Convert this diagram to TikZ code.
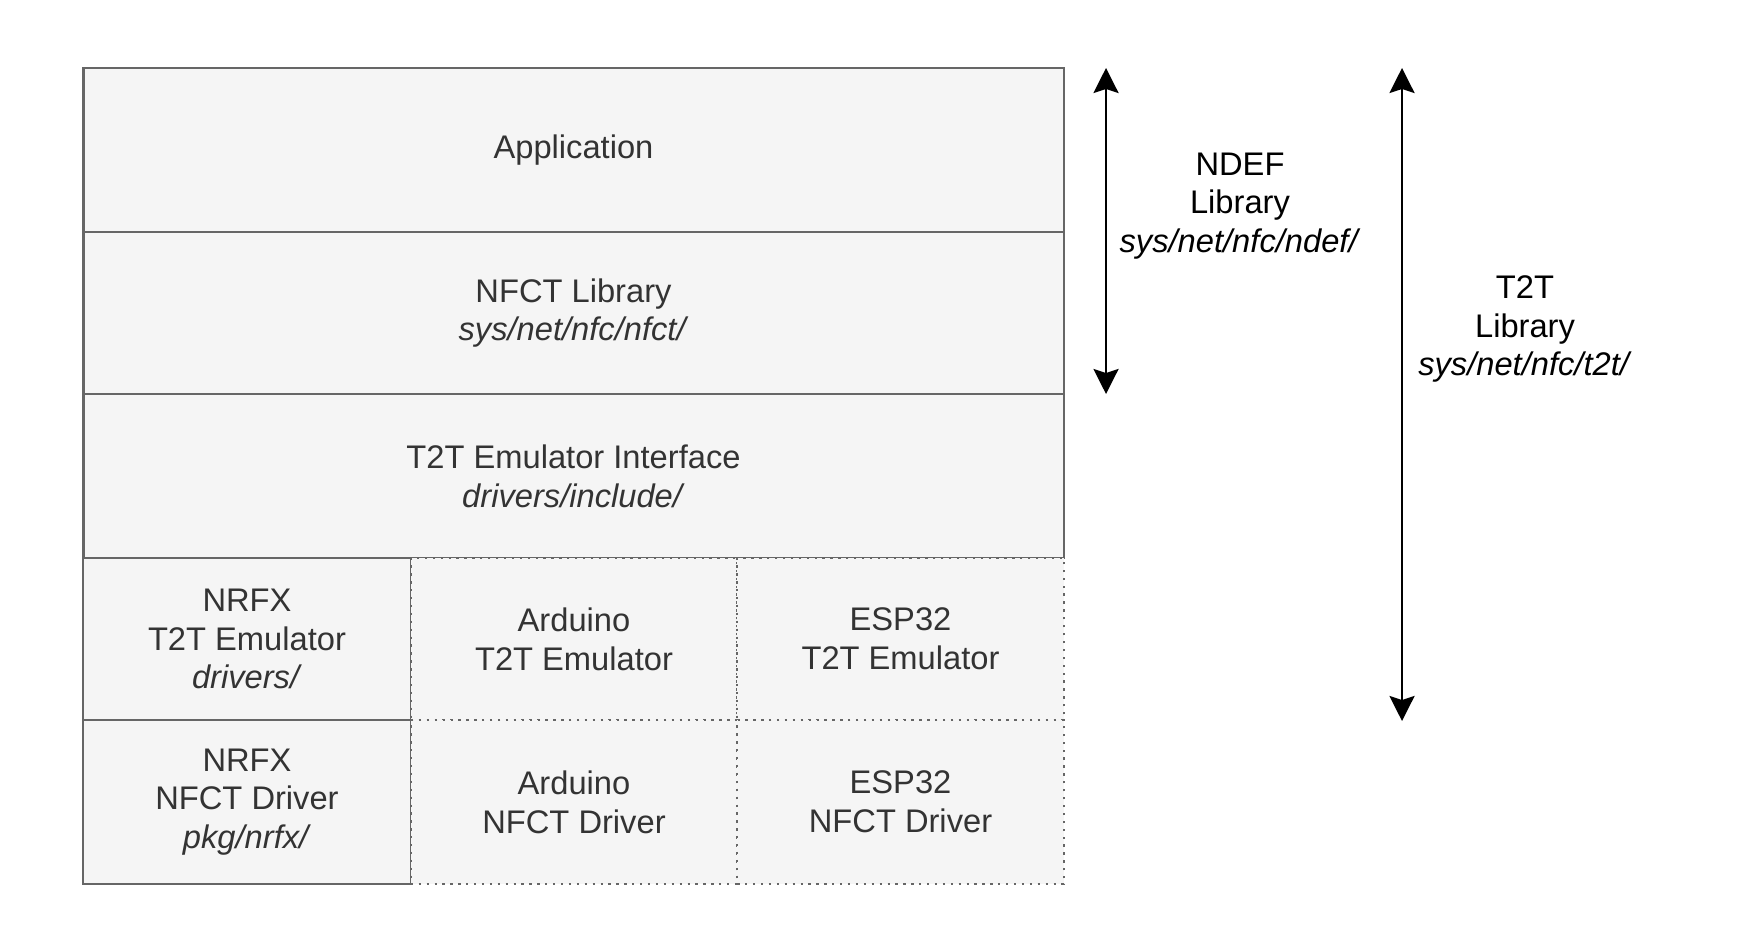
\documentclass[tikz,border=0pt]{standalone}
\usepackage{fontspec}
\setmainfont{Liberation Sans}
\usetikzlibrary{arrows.meta}
\definecolor{boxfill}{HTML}{F5F5F5}
\definecolor{boxline}{HTML}{666666}
\definecolor{boxtext}{HTML}{333333}

\tikzset{
  layer/.style={draw=boxline, fill=boxfill, line width=1.6pt, text=boxtext,
    align=center, inner sep=0pt, font=\fontsize{18.6}{22}\selectfont},
  port/.style={layer, line width=1.2pt, dash pattern=on 1.3pt off 3.2pt},
  span/.style={{Stealth[length=0.5cm,width=0.5cm,inset=0.08cm]}-{Stealth[length=0.5cm,width=0.5cm,inset=0.08cm]}, line width=1.5pt},
  tag/.style={align=center, font=\fontsize{18.6}{22}\selectfont}
}

\begin{document}
\begin{tikzpicture}[x=0.02cm,y=-0.02cm]
  \useasboundingbox (0,0) rectangle (1746,929);

  % layers of the stack
  \node[layer, minimum width=19.62cm, minimum height=3.28cm] (app) at (573.5,150) {Application};
  \node[layer, minimum width=19.62cm, minimum height=3.24cm] (nfct) at (573.5,313) {NFCT Library\\\textit{sys/net/nfc/nfct/}};
  \node[layer, minimum width=19.62cm, minimum height=3.28cm] (iface) at (573.5,476) {T2T Emulator Interface\\\textit{drivers/include/}};

  % emulators and drivers
  \node[layer, minimum width=6.56cm, minimum height=3.24cm] (nrfxemu) at (247,639) {NRFX\\T2T Emulator\\\textit{drivers/}};
  \node[layer, minimum width=6.56cm, minimum height=3.28cm] (nrfxdrv) at (247,802) {NRFX\\NFCT Driver\\\textit{pkg/nrfx/}};
  \foreach \x/\n/\t in {574/ard/Arduino,900.5/esp/ESP32}
  {
    \node[port, minimum width=6.53cm, minimum height=3.24cm] (\n emu) at (\x,639) {\t\\T2T Emulator};
    \node[port, minimum width=6.53cm, minimum height=3.28cm] (\n drv) at (\x,802) {\t\\NFCT Driver};
  }

  % library spans
  \coordinate (ndeftop) at (1106,68);
  \coordinate (ndefbot) at (1106,394);
  \coordinate (t2ttop) at (1402,68);
  \coordinate (t2tbot) at (1402,721);
  \draw[span] (ndeftop) -- (ndefbot);
  \draw[span] (t2ttop) -- (t2tbot);
  \node[tag] (ndef) at (1240,206) {NDEF\\Library\\\textit{sys/net/nfc/ndef/}};
  \node[tag] (t2t) at (1525,329) {T2T\\Library\\\textit{sys/net/nfc/t2t/}};
\end{tikzpicture}
\end{document}
